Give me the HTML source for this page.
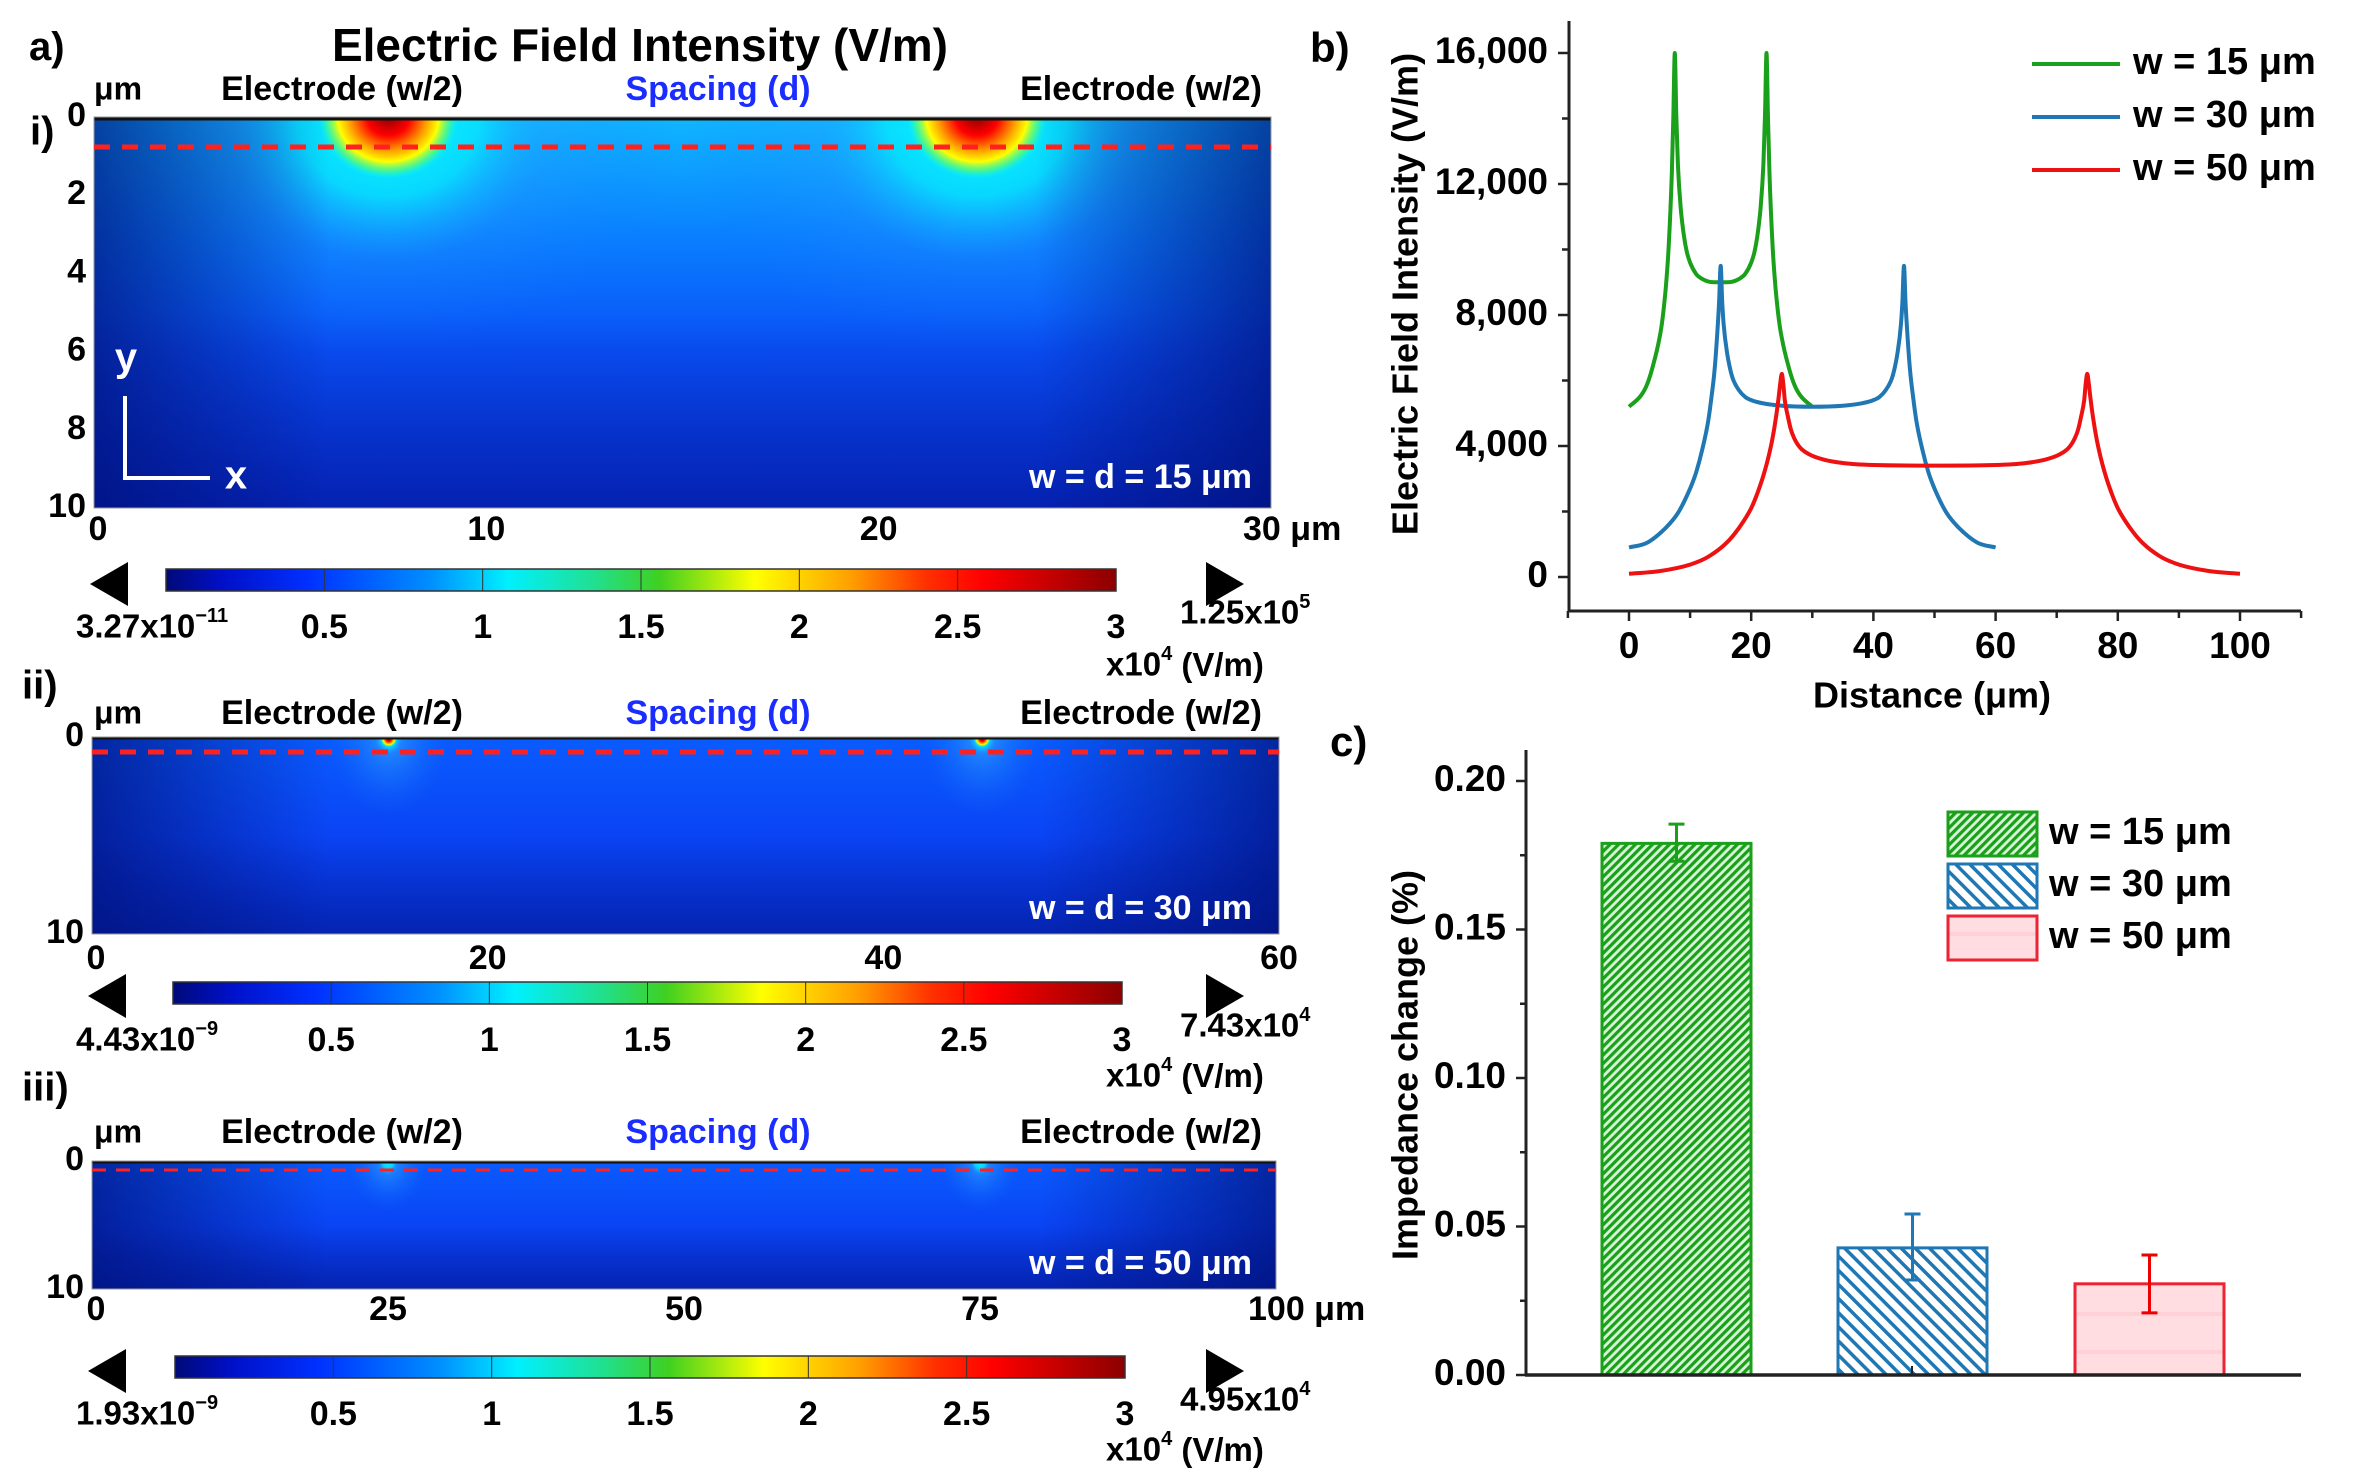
<!DOCTYPE html>
<html><head><meta charset="utf-8"><style>
html,body{margin:0;padding:0;background:#fff}
svg{display:block}
text{font-family:"Liberation Sans",sans-serif;font-weight:bold}
.n{font-family:"Liberation Sans Narrow","Liberation Sans",sans-serif}
</style></head><body>
<svg id="fig" width="2354" height="1484" viewBox="0 0 2354 1484" xmlns="http://www.w3.org/2000/svg">
<defs>
<linearGradient id="jet" x1="0" x2="1" y1="0" y2="0">
<stop offset="0" stop-color="#000a78"/><stop offset="0.06" stop-color="#0010c8"/><stop offset="0.15" stop-color="#0030ff"/>
<stop offset="0.28" stop-color="#0090ff"/><stop offset="0.36" stop-color="#00f0ff"/><stop offset="0.45" stop-color="#20e090"/>
<stop offset="0.52" stop-color="#40d020"/><stop offset="0.62" stop-color="#ffff00"/><stop offset="0.72" stop-color="#ffa000"/>
<stop offset="0.8" stop-color="#ff3000"/><stop offset="0.86" stop-color="#ff0000"/><stop offset="1" stop-color="#8c0000"/>
</linearGradient>
<linearGradient id="baseV0" x1="0" x2="0" y1="0" y2="1"><stop offset="0" stop-color="#10b8ff"/><stop offset="0.3" stop-color="#0a80ff"/><stop offset="0.6" stop-color="#0a50f8"/><stop offset="1" stop-color="#0830e0"/></linearGradient>
<linearGradient id="baseV1" x1="0" x2="0" y1="0" y2="1"><stop offset="0" stop-color="#0a5cff"/><stop offset="0.5" stop-color="#0a44f4"/><stop offset="1" stop-color="#0834e0"/></linearGradient>
<linearGradient id="sideDark" x1="0" x2="1" y1="0" y2="0"><stop offset="0" stop-color="#001078" stop-opacity="0.7"/><stop offset="0.2" stop-color="#001078" stop-opacity="0"/><stop offset="0.8" stop-color="#001078" stop-opacity="0"/><stop offset="1" stop-color="#001078" stop-opacity="0.7"/></linearGradient>
<linearGradient id="botDark" x1="0" x2="0" y1="0" y2="1"><stop offset="0.5" stop-color="#001078" stop-opacity="0"/><stop offset="1" stop-color="#001078" stop-opacity="0.45"/></linearGradient>
<radialGradient id="glow"><stop offset="0" stop-color="#00ffff" stop-opacity="0.95"/><stop offset="0.55" stop-color="#00f0ff" stop-opacity="0.7"/><stop offset="1" stop-color="#10a0ff" stop-opacity="0"/></radialGradient>
<radialGradient id="glowS"><stop offset="0" stop-color="#40c0ff" stop-opacity="0.6"/><stop offset="1" stop-color="#1070ff" stop-opacity="0"/></radialGradient>
<radialGradient id="hot"><stop offset="0" stop-color="#900000"/><stop offset="0.3" stop-color="#ff0000"/><stop offset="0.55" stop-color="#ffa000"/><stop offset="0.72" stop-color="#ffff00"/><stop offset="0.88" stop-color="#60ff60" stop-opacity="0.6"/><stop offset="1" stop-color="#00ffff" stop-opacity="0"/></radialGradient>
<clipPath id="c0"><rect x="94" y="117" width="1177" height="391"/></clipPath>
<clipPath id="c1"><rect x="92" y="737" width="1187" height="197"/></clipPath>
<clipPath id="c2"><rect x="92" y="1161" width="1184" height="128"/></clipPath>
<pattern id="hG" patternUnits="userSpaceOnUse" width="6" height="6" patternTransform="rotate(45)"><rect width="6" height="6" fill="#d8f5d8"/><rect width="3.2" height="6" fill="#1aa01a"/></pattern>
<pattern id="hB" patternUnits="userSpaceOnUse" width="10" height="10" patternTransform="rotate(-45)"><rect width="10" height="10" fill="#fff"/><rect width="3.5" height="10" fill="#1f77b4"/></pattern>
<pattern id="hR" patternUnits="userSpaceOnUse" width="20" height="38"><rect width="20" height="38" fill="#ffdde0"/><rect y="20" width="20" height="4" fill="#ffd0d5"/></pattern>
</defs>

<text x="29" y="60" font-size="40" class="n">a)</text>
<text x="640" y="49" font-size="46" text-anchor="middle" dominant-baseline="middle" class="n">Electric Field Intensity (V/m)</text>
<g id="maps"></g>

<text x="1310" y="62" font-size="42" class="n">b)</text>
<g id="lineChart"></g>

<text x="1330" y="756" font-size="42" class="n">c)</text>
<g id="barChart"></g>
</svg>
<script>
// ===== Panel b data =====
const xG=[0,2,3,4,5,5.5,6,6.5,7,7.25,7.5,7.75,8,8.5,9,9.5,10,11,12,13,14,15,16,17,18,19,20,20.5,21,21.5,22,22.25,22.5,22.75,23,23.5,24,24.5,25,26,27,28,30];
const yG=[5200,5550,5900,6500,7300,7900,8800,10100,12300,14000,16000,14000,12600,11200,10400,9900,9600,9250,9100,9020,9000,9000,9000,9020,9100,9250,9600,9900,10400,11200,12600,14000,16000,14000,12300,10100,8800,7900,7300,6500,5900,5550,5200];
const xB=[0,3,6,8,10,11,12,13,13.5,14,14.5,14.75,15,15.25,15.5,16,16.5,17,18,19,20,22,25,30,35,38,40,41,42,43,43.5,44,44.5,44.75,45,45.25,45.5,46,46.5,47,48,49,50,52,54,57,60];
const yB=[900,1050,1500,1950,2700,3200,3900,4800,5500,6300,7600,8400,9500,8400,7700,6900,6400,6050,5700,5500,5400,5300,5230,5200,5230,5300,5400,5500,5700,6050,6400,6900,7700,8400,9500,8400,7600,6300,5500,4800,3900,3200,2700,1950,1500,1050,900];
const xR=[0,5,10,13,16,18,20,21,22,23,23.5,24,24.5,24.75,25,25.25,25.5,26,26.5,27,28,29,30,32,35,40,50,60,65,68,70,71,72,73,73.5,74,74.5,74.75,75,75.25,75.5,76,76.5,77,78,79,80,82,84,87,90,95,100];
const yR=[100,180,380,620,1050,1500,2100,2550,3100,3800,4250,4800,5500,5900,6200,5900,5400,4900,4500,4250,3950,3800,3700,3580,3480,3420,3400,3420,3480,3580,3700,3800,3950,4250,4500,4900,5400,5900,6200,5900,5500,4800,4250,3800,3100,2550,2100,1500,1050,620,380,180,100];
const lineLabels=["w = 15 μm","w = 30 μm","w = 50 μm"];
const yTicksB=[0,4000,8000,12000,16000];
const yTickTextB=["0","4,000","8,000","12,000","16,000"];
const xTicksB=[0,20,40,60,80,100];
// ===== Panel c data =====
const barCats=["w = 15 μm","w = 30 μm","w = 50 μm"];
const barVals=[0.179,0.0428,0.0307];
const errHi=[0.1855,0.0542,0.0404];
const errLo=[0.173,0.032,0.0209];
const yTicksC=[0,0.05,0.10,0.15,0.20];
const yTickTextC=["0.00","0.05","0.10","0.15","0.20"];
// ===== Panel a data =====
const mapW=[15,30,50];
const mapXTicks=[[0,10,20,30],[0,20,40,60],[0,25,50,75,100]];
const cbTicks=[0.5,1,1.5,2,2.5,3];
const cbMin=["3.27x10","4.43x10","1.93x10"];
const cbMinExp=["−11","−9","−9"];
const cbMax=["1.25x10","7.43x10","4.95x10"];
const cbMaxExp=["5","4","4"];

const NS="http://www.w3.org/2000/svg";
function mk(tag,attrs,parent,txt){const e=document.createElementNS(NS,tag);for(const k in attrs)e.setAttribute(k,attrs[k]);if(txt!==undefined)e.textContent=txt;parent.appendChild(e);return e;}

// ---------- Panel b ----------
const gb=document.getElementById('lineChart');
const bx0=1629,bx1=2240,by0=577,by1=53;
const sxB=v=>bx0+(v-0)/100*(bx1-bx0);
const syB=v=>by0-(v/16000)*(by0-by1);
let ax=mk('line',{x1:1569,y1:21,x2:1569,y2:611,stroke:'#222','stroke-width':3},gb);


ax=mk('line',{x1:1568,y1:611,x2:2301,y2:611,stroke:'#222','stroke-width':3},gb);


for(let v=0;v<=16000;v+=2000){mk('line',{x1:1569,x2:v%4000==0?1558:1562,y1:syB(v),y2:syB(v),stroke:'#222','stroke-width':2.5},gb);}
yTicksB.forEach((v,i)=>{const t=mk('text',{x:1548,y:syB(v),'font-size':37,'text-anchor':'end','dominant-baseline':'middle',class:'n'},gb,yTickTextB[i]);

});
for(let v=-10;v<=110;v+=10){mk('line',{x1:sxB(v),x2:sxB(v),y1:611,y2:v%20==0?621:618,stroke:'#222','stroke-width':2.5},gb);}
xTicksB.forEach(v=>{const t=mk('text',{x:sxB(v),y:648,'font-size':37,'text-anchor':'middle','dominant-baseline':'middle',class:'n'},gb,String(v));

});
let tl=mk('text',{x:1932,y:698,'font-size':36,'text-anchor':'middle','dominant-baseline':'middle'},gb,'Distance (μm)');


tl=mk('text',{x:0,y:0,'font-size':36,'text-anchor':'middle','dominant-baseline':'middle',transform:'translate(1408,294) rotate(-90)'},gb,'Electric Field Intensity (V/m)');


function smoothPath(px,py){
  // monotone-ish cubic (Fritsch-Carlson) for smooth curves without overshoot
  const n=px.length,d=[],m=[];
  for(let i=0;i<n-1;i++)d.push((py[i+1]-py[i])/(px[i+1]-px[i]));
  m[0]=d[0];m[n-1]=d[n-2];
  for(let i=1;i<n-1;i++){m[i]=(d[i-1]*d[i]<=0)?0:(d[i-1]+d[i])/2;}
  for(let i=0;i<n-1;i++){if(d[i]===0){m[i]=0;m[i+1]=0;continue;}const a=m[i]/d[i],b=m[i+1]/d[i],s=a*a+b*b;if(s>9){const t=3/Math.sqrt(s);m[i]=t*a*d[i];m[i+1]=t*b*d[i];}}
  let s='M'+px[0].toFixed(1)+','+py[0].toFixed(1);
  for(let i=0;i<n-1;i++){const h=(px[i+1]-px[i])/3;s+='C'+(px[i]+h).toFixed(1)+','+(py[i]+m[i]*h).toFixed(1)+' '+(px[i+1]-h).toFixed(1)+','+(py[i+1]-m[i+1]*h).toFixed(1)+' '+px[i+1].toFixed(1)+','+py[i+1].toFixed(1);}
  return s;
}
[[xG,yG,'#1aa01a'],[xB,yB,'#1f77b4'],[xR,yR,'#ee1111']].forEach((s,k)=>{
  const d=smoothPath(s[0].map(sxB),s[1].map(syB));
  const p=mk('path',{d:d,fill:'none',stroke:s[2],'stroke-width':4,'stroke-linejoin':'round'},gb);
  
  
  const ly=[64,117,170][k];
  const l=mk('line',{x1:2032,x2:2120,y1:ly,y2:ly,stroke:s[2],'stroke-width':4},gb);
  
  
  const t=mk('text',{x:2133,y:ly,'font-size':38,'dominant-baseline':'middle',class:'n'},gb,lineLabels[k]);
  
  
});

// ---------- Panel c ----------
const gc=document.getElementById('barChart');
const cy0=1375,cy1=781;
const syC=v=>cy0-(v/0.20)*(cy0-cy1);
const barX=[1602,1838,2075],barW=149;
const fills=['url(#hG)','url(#hB)','url(#hR)'],strokes=['#1aa01a','#1f77b4','#ee2233'];
barVals.forEach((v,i)=>{
  const r=mk('rect',{x:barX[i],y:syC(v),width:barW,height:cy0-syC(v),fill:fills[i],stroke:strokes[i],'stroke-width':3},gc);
  
  
  const cx=barX[i]+barW/2;
  const e=mk('path',{d:`M${cx},${syC(errHi[i])}L${cx},${syC(errLo[i])}M${cx-8},${syC(errHi[i])}L${cx+8},${syC(errHi[i])}M${cx-8},${syC(errLo[i])}L${cx+8},${syC(errLo[i])}`,stroke:strokes[i]==='#ee2233'?'#ee0000':strokes[i],'stroke-width':3,fill:'none'},gc);
  
  
  const ly=[834,886,938][i];
  const s=mk('rect',{x:1948,y:ly-22,width:89,height:44,fill:fills[i],stroke:strokes[i],'stroke-width':3},gc);
  
  
  const t=mk('text',{x:2049,y:ly,'font-size':38,'dominant-baseline':'middle',class:'n'},gc,barCats[i]);
  
  
});
ax=mk('line',{x1:1526,y1:750,x2:1526,y2:1376,stroke:'#222','stroke-width':3},gc);


ax=mk('line',{x1:1525,y1:1375,x2:2301,y2:1375,stroke:'#222','stroke-width':3.5},gc);


mk('line',{x1:1912,x2:1912,y1:1375,y2:1366,stroke:'#222','stroke-width':2},gc);
for(let v=0;v<=0.2001;v+=0.025){mk('line',{x1:1526,x2:Math.round(v*1000)%50==0?1516:1520,y1:syC(v),y2:syC(v),stroke:'#222','stroke-width':2.5},gc);}
yTicksC.forEach((v,i)=>{const t=mk('text',{x:1506,y:syC(v),'font-size':37,'text-anchor':'end','dominant-baseline':'middle',class:'n'},gc,yTickTextC[i]);

});
tl=mk('text',{x:0,y:0,'font-size':36,'text-anchor':'middle','dominant-baseline':'middle',transform:'translate(1408,1065) rotate(-90)'},gc,'Impedance change (%)');



// ---------- Panel a maps ----------
const gm=document.getElementById('maps');
const maps=[
 {L:94,R:1271,T:117,B:508,dash:147,lab:'i)',labY:134,labX:30,hdrY:91,tickY:531,yt:[0,2,4,6,8,10],cbY:569,cbH:22,cbL:166,cbR:1116,cbLabY:629,unitY:667,arrY:573},
 {L:92,R:1279,T:737,B:934,dash:752,lab:'ii)',labY:688,labX:22,hdrY:715,tickY:960,yt:[0,10],cbY:982,cbH:22,cbL:173,cbR:1122,cbLabY:1042,unitY:1078,arrY:985},
 {L:92,R:1276,T:1161,B:1289,dash:1170,lab:'iii)',labY:1090,labX:22,hdrY:1134,tickY:1311,yt:[0,10],cbY:1356,cbH:22,cbL:175,cbR:1125,cbLabY:1416,unitY:1452,arrY:1360}
];
maps.forEach((m,k)=>{
  const g=mk('g',{},gm);
  
  
  const W=m.R-m.L,H=m.B-m.T,wv=mapW[k],span=mapXTicks[k][mapXTicks[k].length-1];
  const sx=v=>m.L+v/span*W;
  const lab=mk('text',{x:m.labX,y:m.labY,'font-size':40,'dominant-baseline':'middle',class:'n'},g,m.lab);
  
  
  const cg=mk('g',{'clip-path':'url(#c'+k+')'},g);
  mk('rect',{x:m.L,y:m.T,width:W,height:H,fill:k===0?'url(#baseV0)':'url(#baseV1)'},cg);
  const e1=wv/2,e2=span-wv/2;
  [e1,e2].forEach(e=>{
    if(k===0){
      mk('ellipse',{cx:sx(e),cy:m.T,rx:300,ry:240,fill:'url(#glowS)'},cg);
      mk('ellipse',{cx:sx(e),cy:m.T,rx:165,ry:145,fill:'url(#glow)'},cg);
      mk('ellipse',{cx:sx(e),cy:m.T,rx:70,ry:62,fill:'url(#hot)'},cg);
    } else if(k===1){
      mk('ellipse',{cx:sx(e),cy:m.T,rx:60,ry:80,fill:'url(#glowS)'},cg);
      mk('ellipse',{cx:sx(e),cy:m.T,rx:14,ry:18,fill:'url(#glow)'},cg);
      mk('ellipse',{cx:sx(e),cy:m.T+2,rx:8,ry:8,fill:'url(#hot)'},cg);
    } else {
      mk('ellipse',{cx:sx(e),cy:m.T,rx:40,ry:50,fill:'url(#glowS)'},cg);
      mk('ellipse',{cx:sx(e),cy:m.T,rx:10,ry:14,fill:'url(#glow)'},cg);
    }
  });
  mk('rect',{x:m.L,y:m.T,width:W,height:H,fill:'url(#sideDark)'},cg);
  mk('rect',{x:m.L,y:m.T,width:W,height:H,fill:'url(#botDark)'},cg);
  mk('line',{x1:m.L,x2:m.R,y1:m.T+1.5,y2:m.T+1.5,stroke:'#111','stroke-width':k===0?4:2},g);
  mk('rect',{x:m.L,y:m.T,width:W,height:H,fill:'none',stroke:'#999','stroke-width':1},g);
  const dl=mk('line',{x1:m.L,x2:m.R,y1:m.dash,y2:m.dash,stroke:'#ff2020','stroke-width':k===2?3:5,'stroke-dasharray':k===2?'14 10':'16 12'},g);
  
  
  let t=mk('text',{x:118,y:m.hdrY,'font-size':32,'text-anchor':'middle','dominant-baseline':'middle',class:'n'},g,'μm');
  t=mk('text',{x:342,y:m.hdrY,'font-size':34,'text-anchor':'middle','dominant-baseline':'middle',class:'n'},g,'Electrode (w/2)');
  
  
  t=mk('text',{x:718,y:m.hdrY,'font-size':34,'text-anchor':'middle','dominant-baseline':'middle',fill:'#1a2cff',class:'n'},g,'Spacing (d)');
  
  
  t=mk('text',{x:1141,y:m.hdrY,'font-size':34,'text-anchor':'middle','dominant-baseline':'middle',class:'n'},g,'Electrode (w/2)');
  
  
  t=mk('text',{x:1252,y:m.B-24-(k===0?5:0),'font-size':34,'text-anchor':'end','dominant-baseline':'middle',fill:'#fff',class:'n'},g,'w = d =  '+wv+' μm');
  
  
  m.yt.forEach(v=>{const yy=m.T+v/10*H;const tt=mk('text',{x:m.L-8,y:yy,'font-size':34,'text-anchor':'end','dominant-baseline':'middle',class:'n'},g,String(v));
  
  });
  mapXTicks[k].forEach((v,i,a)=>{const last=i===a.length-1;const unit=last&&k!==1;const s=unit?String(v)+' μm':String(v);
   const tt=mk('text',{x:unit?sx(v)-28:sx(v)+(i===0?4:0),y:m.tickY,'font-size':34,'text-anchor':unit?'start':'middle','dominant-baseline':'middle',class:'n'},g,s);
   
   });
  const cb=mk('rect',{x:m.cbL,y:m.cbY,width:m.cbR-m.cbL,height:m.cbH,fill:'url(#jet)',stroke:'#333','stroke-width':1.5},g);
  
  
  const cs=v=>m.cbL+v/3*(m.cbR-m.cbL);
  cbTicks.forEach(v=>{mk('line',{x1:cs(v),x2:cs(v),y1:m.cbY,y2:m.cbY+m.cbH,stroke:'#333','stroke-width':1},g);
   const tt=mk('text',{x:cs(v),y:m.cbLabY,'font-size':34,'text-anchor':'middle','dominant-baseline':'middle',class:'n'},g,String(v));
   
   });
  const ay=m.arrY+11;
  let a=mk('polygon',{points:`${m.L-4},${ay} ${m.L+34},${ay-22} ${m.L+34},${ay+22}`,fill:'#000'},g);
  
  
  a=mk('polygon',{points:`${1244},${ay} ${1206},${ay-22} ${1206},${ay+22}`,fill:'#000'},g);
  
  
  t=mk('text',{x:76,y:m.cbLabY,'font-size':33,'dominant-baseline':'middle',class:'n'},g);
  
  
  t.appendChild(document.createTextNode(cbMin[k]));
  mk('tspan',{'font-size':20,dy:-12},t,cbMinExp[k]);
  t=mk('text',{x:1180,y:m.cbLabY-14,'font-size':33,'dominant-baseline':'middle',class:'n'},g);
  
  
  t.appendChild(document.createTextNode(cbMax[k]));
  mk('tspan',{'font-size':20,dy:-12},t,cbMaxExp[k]);
  t=mk('text',{x:1106,y:m.unitY,'font-size':33,'dominant-baseline':'middle',class:'n'},g);
  
  
  t.appendChild(document.createTextNode('x10'));
  mk('tspan',{'font-size':20,dy:-12},t,'4');
  mk('tspan',{dy:12},t,' (V/m)');
});
const ga=mk('g',{},gm);


mk('path',{d:'M125,396L125,478L210,478',fill:'none',stroke:'#fff','stroke-width':4},ga);
mk('text',{x:126,y:360,'font-size':40,fill:'#fff','text-anchor':'middle','dominant-baseline':'middle',class:'n'},ga,'y');
mk('text',{x:236,y:478,'font-size':40,fill:'#fff','text-anchor':'middle','dominant-baseline':'middle',class:'n'},ga,'x');
</script>
</body></html>
